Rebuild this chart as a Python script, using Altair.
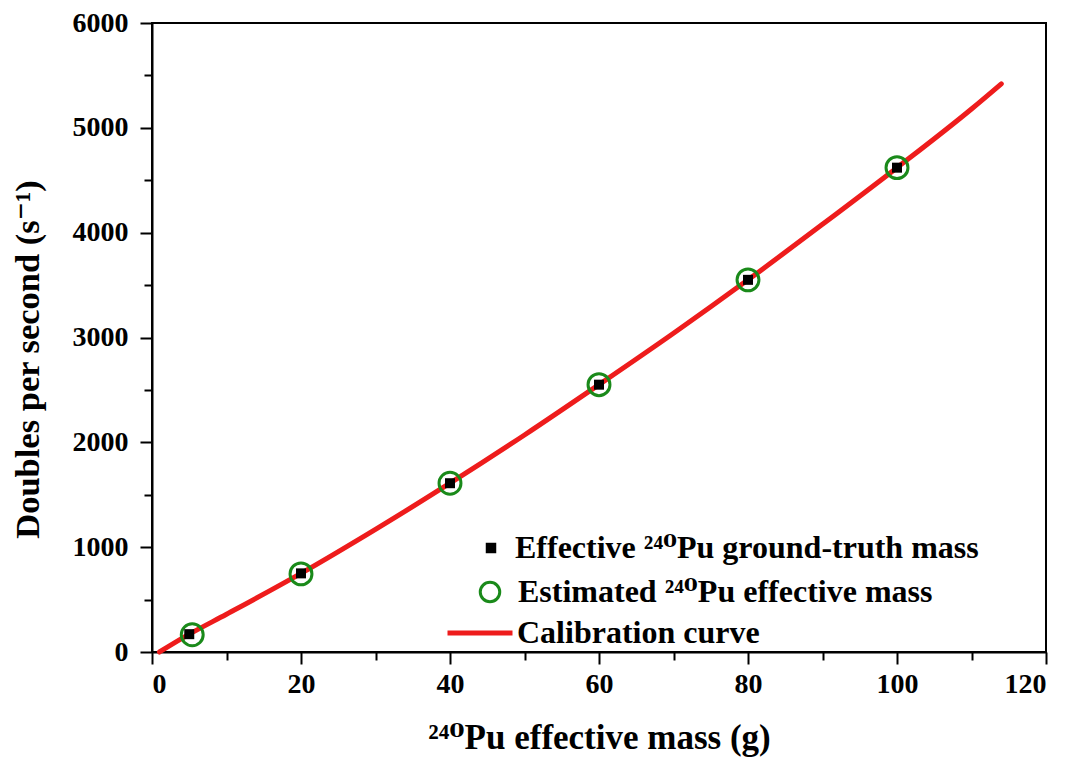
import altair as alt
import pandas as pd

# ---- data ----
truth_mass = [5, 20, 40, 60, 80, 100]
truth_dps = [170, 750, 1610, 2550, 3550, 4620]

est_mass = [5.4, 20, 40, 60, 80, 100]
est_dps = [165, 745, 1610, 2550, 3550, 4620]

curve_mass = [1, 5, 10, 20, 30, 40, 50, 60, 70, 80, 90, 100, 110, 114]
curve_dps = [0, 170, 360, 750, 1170, 1610, 2070, 2550, 3040, 3550, 4080, 4620, 5180, 5420]

lab_truth = "Effective \u00b2\u2074\u2070Pu ground-truth mass"
lab_est = "Estimated \u00b2\u2074\u2070Pu effective mass"
lab_curve = "Calibration curve"

x_ticks = list(range(0, 121, 10))
y_ticks = list(range(0, 6001, 500))

FONT = "Liberation Serif, DejaVu Serif, serif"

truth_df = pd.DataFrame({"m": truth_mass, "d": truth_dps, "s": lab_truth})
est_df = pd.DataFrame({"m": est_mass, "d": est_dps, "s": lab_est})
curve_df = pd.DataFrame({"m": curve_mass, "d": curve_dps, "s": lab_curve})

xs = alt.Scale(domain=[0, 120], nice=False, zero=False)
ys = alt.Scale(domain=[0, 6000], nice=False, zero=False)

x_axis = alt.Axis(
    title="\u00b2\u2074\u2070Pu effective mass (g)",
    values=x_ticks,
    format="d",
    labelExpr="datum.value % 20 === 0 ? datum.label : ''",
    tickSize={"condition": {"test": "datum.value % 20 === 0", "value": 12}, "value": 8},
    grid=False,
    labelPadding=6,
    titlePadding=22,
    titleFontSize=35,
)
y_axis = alt.Axis(
    title="Doubles per second (s\u207b\u00b9)",
    values=y_ticks,
    format="d",
    labelExpr="datum.value % 1000 === 0 ? datum.label : ''",
    tickSize={"condition": {"test": "datum.value % 1000 === 0", "value": 12}, "value": 8},
    grid=False,
    labelPadding=12,
    titlePadding=27,
    titleFontSize=34.5,
    titleY=336,
)

def legend(x, y, symbol, size, offset, stroke_w, fill=None):
    kw = dict(
        orient="none", legendX=x, legendY=y, title=None, padding=0,
        symbolType=symbol, symbolSize=size, labelOffset=offset,
        symbolStrokeWidth=stroke_w, labelLimit=800,
        labelFont=FONT, labelFontSize=32, labelFontWeight="bold", labelColor="black",
    )
    if fill is not None:
        kw["symbolFillColor"] = fill
    return alt.Legend(**kw)

line = alt.Chart(curve_df).mark_line(strokeWidth=5, strokeCap="round", interpolate="monotone").encode(
    x=alt.X("m:Q", scale=xs, axis=x_axis),
    y=alt.Y("d:Q", scale=ys, axis=y_axis),
    color=alt.Color("s:N", scale=alt.Scale(domain=[lab_curve], range=["#ee1c1c"]),
                    legend=legend(293, 575, "stroke", 4225, 2, 5)),
)

circles = alt.Chart(est_df).mark_point(shape="circle", filled=False, size=480, strokeWidth=3, opacity=1).encode(
    x=alt.X("m:Q", scale=xs),
    y=alt.Y("d:Q", scale=ys),
    stroke=alt.Stroke("s:N", scale=alt.Scale(domain=[lab_est], range=["#1a8a1a"]),
                      legend=legend(322, 553, "circle", 380, 12, 3, "white")),
)

squares = alt.Chart(truth_df).mark_square(size=100, opacity=1).encode(
    x=alt.X("m:Q", scale=xs),
    y=alt.Y("d:Q", scale=ys),
    fill=alt.Fill("s:N", scale=alt.Scale(domain=[lab_truth], range=["black"]),
                  legend=legend(323, 509, "square", 110, 8, 0)),
)

chart = alt.layer(line, circles, squares).resolve_scale(
    color="independent", stroke="independent", fill="independent"
).properties(
    width=894, height=629,
    autosize=alt.AutoSizeParams(type="none"),
    padding={"left": 144, "top": 15, "right": 20, "bottom": 112},
    background="white",
).configure_view(
    stroke="black", strokeWidth=2
).configure_axis(
    domainColor="black", domainWidth=2, tickColor="black", tickWidth=2,
    labelFont=FONT, labelFontSize=28, labelFontWeight="bold", labelColor="black",
    titleFont=FONT, titleFontWeight="bold", titleColor="black",
)

chart.save("out.html", embed_options={"renderer": "svg", "actions": False})
